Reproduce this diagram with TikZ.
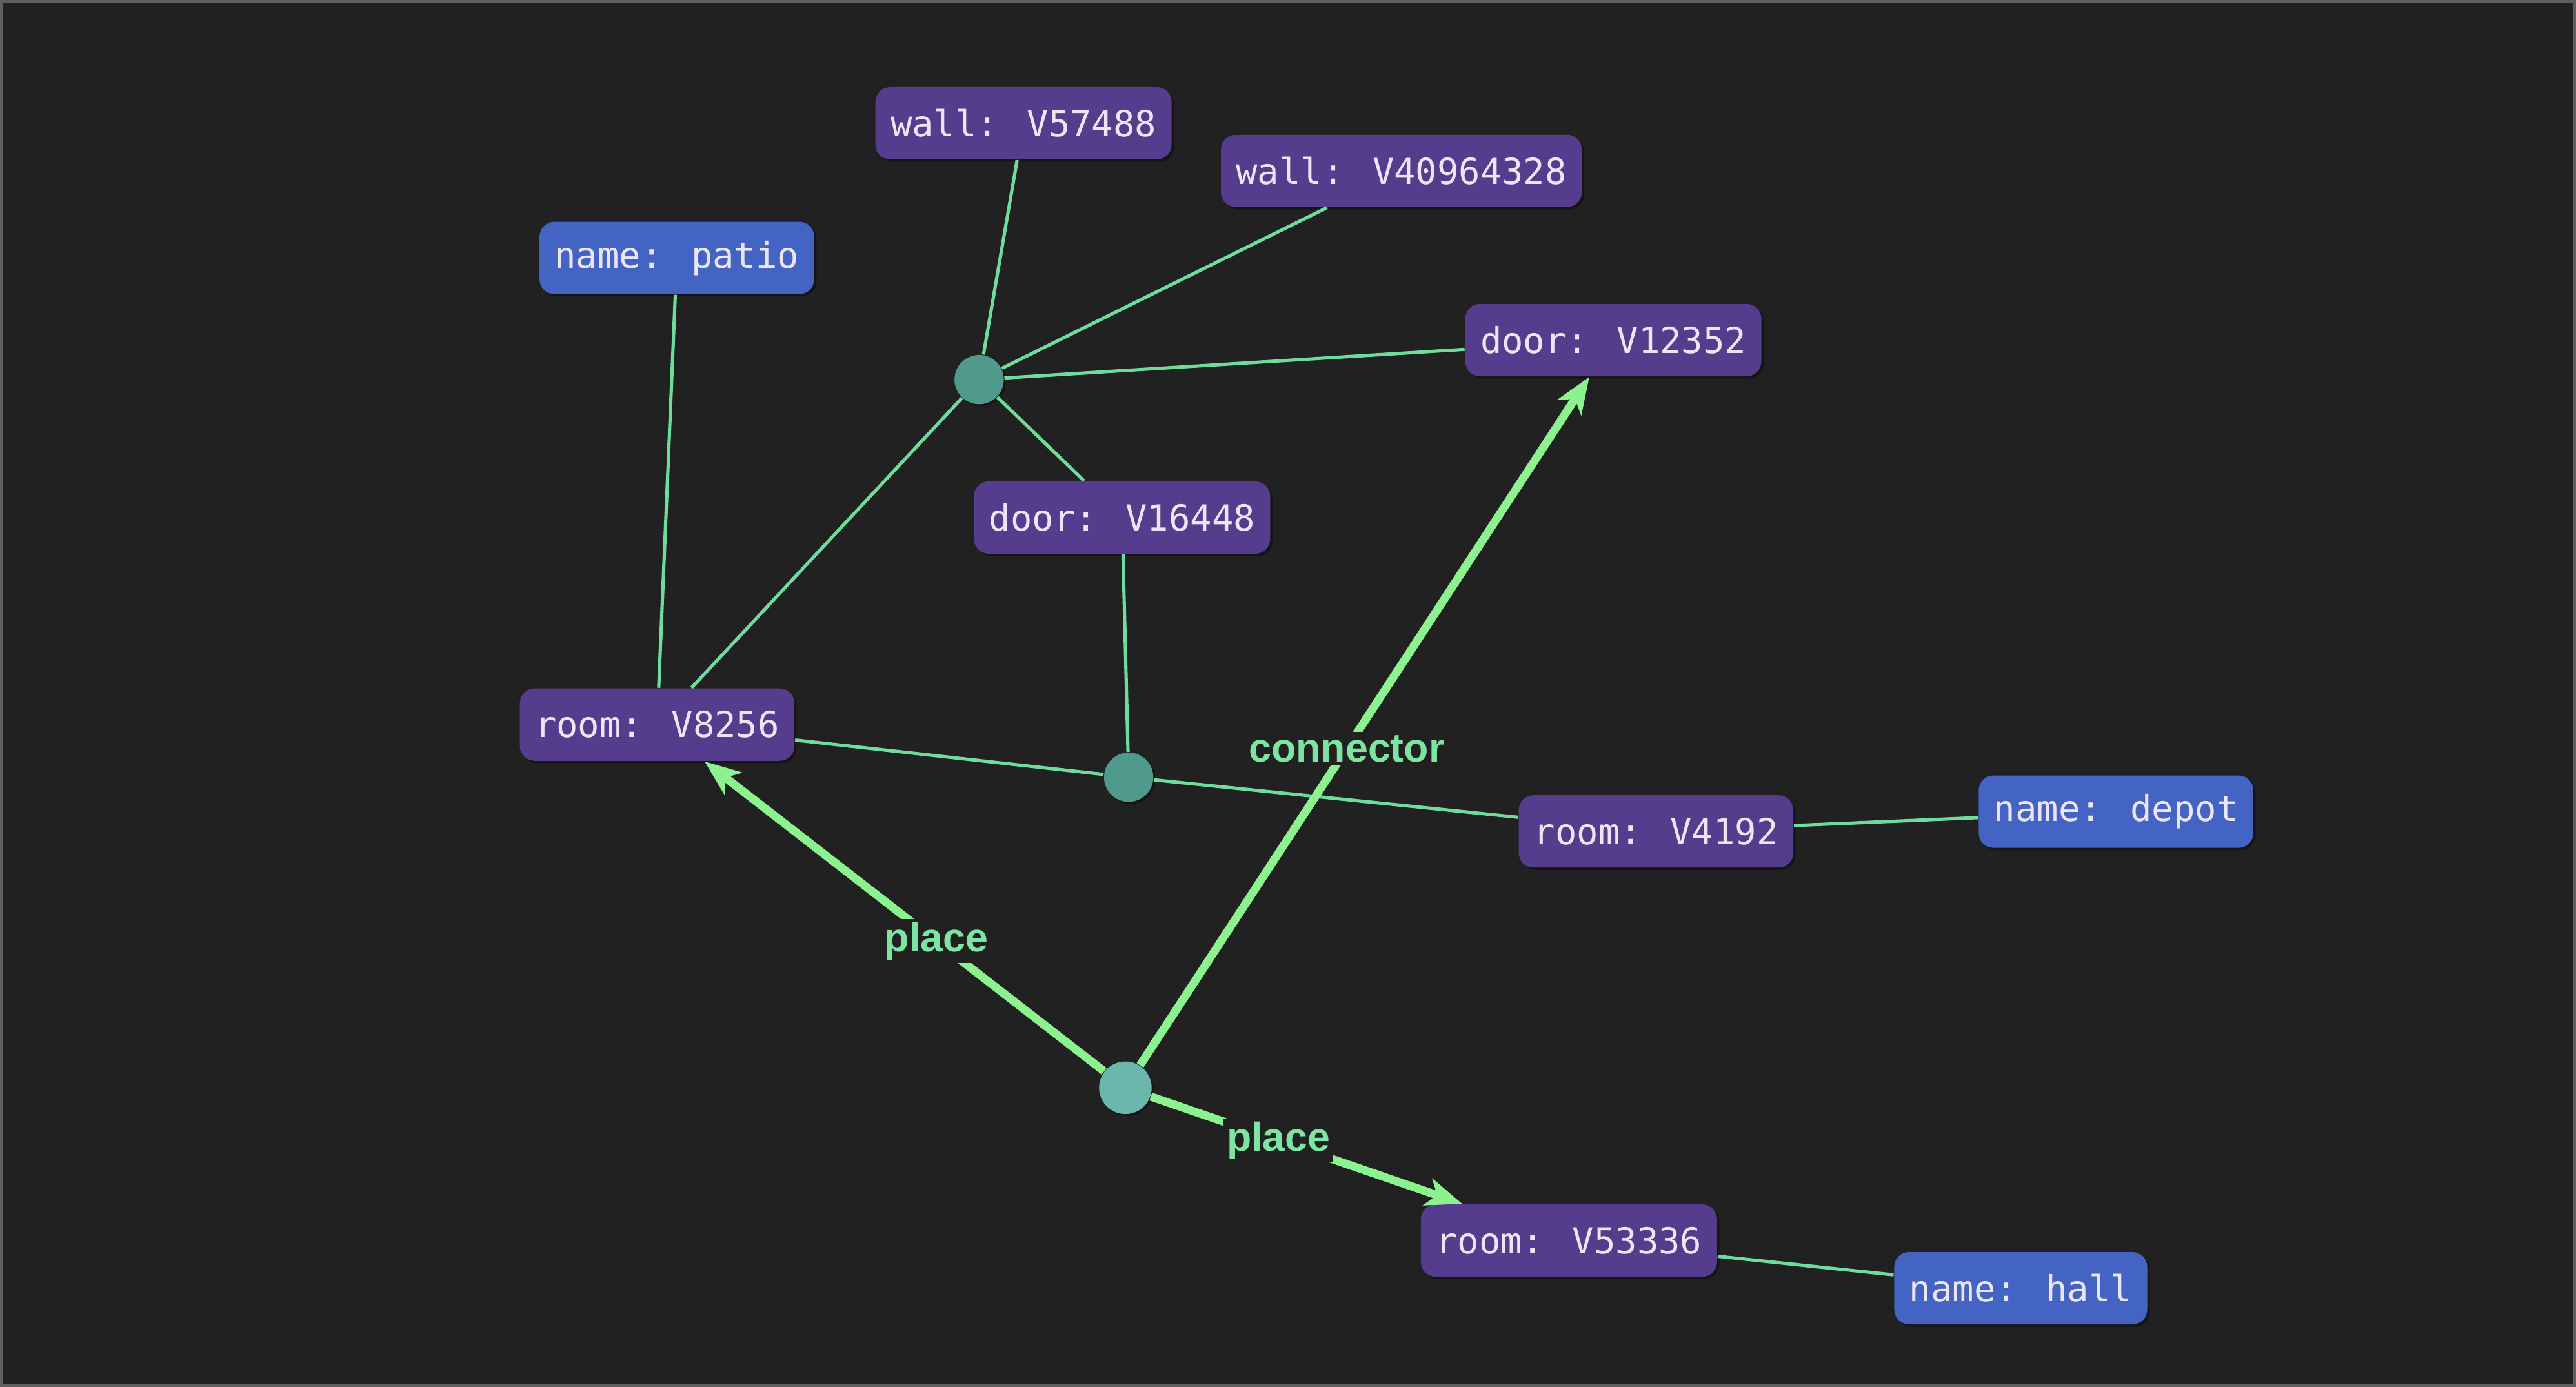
\documentclass[tikz,border=0pt]{standalone}
\usepackage{fontspec}
\setmainfont{Liberation Sans}
\newfontfamily\monofont{DejaVu Sans Mono}
\usetikzlibrary{arrows.meta,shadows}

\definecolor{bg}{HTML}{212121}
\definecolor{framecol}{HTML}{5E5E5E}
\definecolor{roomfill}{HTML}{553C8C}
\definecolor{namefill}{HTML}{4464C4}
\definecolor{nodetext}{HTML}{ECE6F4}
\definecolor{hubfill}{HTML}{4F9A8C}
\definecolor{hublight}{HTML}{6BB7AC}
\definecolor{thinedge}{HTML}{6EDC9C}
\definecolor{thickedge}{HTML}{8CF290}
\definecolor{labeltext}{HTML}{7EE4A2}

\begin{document}
\begin{tikzpicture}[x=0.5pt,y=-0.5pt,
  entity/.style={rounded corners=4.5pt, fill=roomfill, text=nodetext,
    font=\monofont\fontsize{10.9}{13}\selectfont,
    inner xsep=4.6pt, inner ysep=0pt, minimum height=22pt,
    drop shadow={shadow xshift=0.7pt, shadow yshift=-0.7pt, opacity=0.35, fill=black}},
  attr/.style={entity, fill=namefill},
  hub/.style={circle, fill=hubfill, minimum size=15pt, inner sep=0pt,
    drop shadow={shadow xshift=0.6pt, shadow yshift=-0.6pt, opacity=0.35, fill=black}},
  mainhub/.style={hub, fill=hublight, minimum size=16pt},
  link/.style={draw=thinedge, line width=1pt},
  rel/.style={draw=thickedge, line width=2.5pt,
    -{Stealth[length=11pt,width=8.5pt,inset=3pt]}},
  rellabel/.style={fill=bg, text=labeltext, inner sep=1pt,
    font=\bfseries\fontsize{12.3}{14}\selectfont}]

  % canvas and frame
  \fill[bg] (0,0) rectangle (1568,844);
  \useasboundingbox (0,0) rectangle (1568,844);
  \draw[framecol, line width=1pt] (1,1) rectangle (1567,843);

  % entities
  \node[entity] (wallA)  at (623,75)  {wall: V57488};
  \node[entity] (wallB)  at (853,104) {wall: V40964328};
  \node[attr]   (patio)  at (412,157) {name: patio};
  \node[entity] (doorA)  at (982,207) {door: V12352};
  \node[entity] (doorB)  at (683,315) {door: V16448};
  \node[entity] (roomA)  at (400,441) {room: V8256};
  \node[entity] (roomB)  at (1008,506) {room: V4192};
  \node[attr]   (depot)  at (1288,494) {name: depot};
  \node[entity] (roomC)  at (955,755) {room: V53336};
  \node[attr]   (hall)   at (1230,784) {name: hall};

  % relationship hubs
  \node[hub]     (wallrel) at (596,231) {};
  \node[hub]     (doorrel) at (687,473) {};
  \node[mainhub] (placerel) at (685,662) {};

  % plain links
  \draw[link] (wallrel) -- (wallA);
  \draw[link] (wallrel) -- (wallB);
  \draw[link] (wallrel) -- (doorA);
  \draw[link] (wallrel) -- (doorB);
  \draw[link] (wallrel) -- (roomA);
  \draw[link] (patio) -- (roomA);
  \draw[link] (doorB) -- (doorrel);
  \draw[link] (roomA) -- (doorrel);
  \draw[link] (doorrel) -- (roomB);
  \draw[link] (roomB) -- (depot);
  \draw[link] (roomC) -- (hall);

  % labelled relations
  \draw[rel] (placerel) -- node[rellabel, pos=0.42] {place} (roomA);
  \draw[rel] (placerel) -- node[rellabel, pos=0.41] {place} (roomC);
  \draw[rel] (placerel) -- node[rellabel, pos=0.46] {connector} (doorA);
\end{tikzpicture}
\end{document}
